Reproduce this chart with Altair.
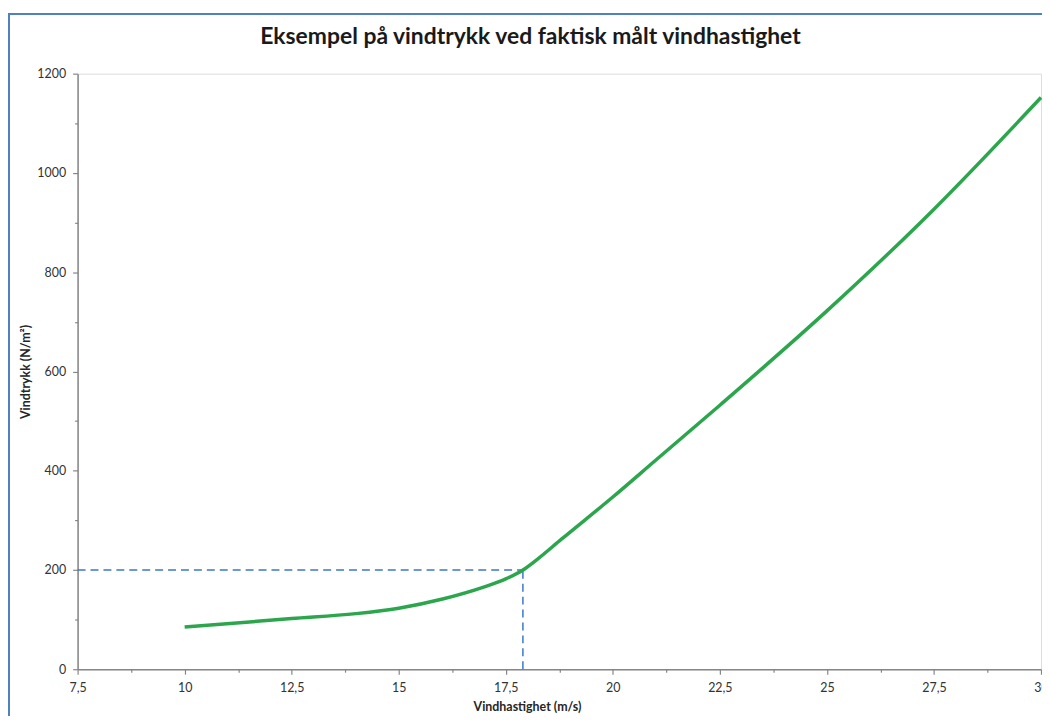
import altair as alt
import pandas as pd

# Data
wind_speed = [10, 12.5, 14, 15, 16, 17, 17.5, 17.9, 18.2, 18.8, 20, 21, 22.5, 25, 27.5, 30]
wind_pressure = [85, 102, 112, 123, 141, 166, 182, 200, 219, 262, 347, 421, 532, 722, 927, 1152]

# Reference (dashed) lines at 200 N/m2 and 17.9 m/s
ref_x_start = [7.5, 17.9]
ref_x_end = [17.9, 17.9]
ref_y_start = [200, 0]
ref_y_end = [200, 200]

x_ticks = [7.5, 8.75, 10, 11.25, 12.5, 13.75, 15, 16.25, 17.5, 18.75, 20,
           21.25, 22.5, 23.75, 25, 26.25, 27.5, 28.75, 30]
y_ticks = [0, 50, 100, 150, 200, 250, 300, 350, 400, 450, 500, 550, 600,
           650, 700, 750, 800, 850, 900, 950, 1000, 1050, 1100, 1150, 1200]

TITLE = "Eksempel på vindtrykk ved faktisk målt vindhastighet"
X_TITLE = "Vindhastighet (m/s)"
Y_TITLE = "Vindtrykk (N/m²)"

FONT = "Lato"
W, H = 969, 599
PAD = {"left": 70, "top": 64, "right": 1, "bottom": 47}

df = pd.DataFrame({"v": wind_speed, "p": wind_pressure})
ref = pd.DataFrame({"x": ref_x_start, "x2": ref_x_end, "y": ref_y_start, "y2": ref_y_end})

x_scale = alt.Scale(domain=[7.5, 30], nice=False, zero=False)
y_scale = alt.Scale(domain=[0, 1200], nice=False)

x_axis = alt.Axis(
    values=x_ticks,
    labelExpr="datum.value % 2.5 === 0 ? replace(format(datum.value, '~g'), '.', ',') : ''",
    tickSize={"condition": {"test": "datum.value % 2.5 === 0", "value": 5}, "value": 3},
    labelPadding=7,
    labelFlush=False,
    labelOverlap=False,
    grid=False,
    domainColor="#868686",
    tickColor="#868686",
    domainWidth=1.5,
    tickWidth=1.2,
    labelColor="#333333",
    labelFontSize=12.5,
    labelFont=FONT,
    title=X_TITLE,
    titleFont=FONT,
    titleFontSize=12.5,
    titleFontWeight="bold",
    titleColor="#262626",
    titleX=452,
    titleY=42,
    titleBaseline="alphabetic",
    titleAnchor="middle",
)

y_axis = alt.Axis(
    values=y_ticks,
    labelExpr="datum.value % 200 === 0 ? datum.label : ''",
    format="d",
    tickSize={"condition": {"test": "datum.value % 200 === 0", "value": 5}, "value": 3},
    labelPadding=7,
    labelFlush=False,
    labelOverlap=False,
    grid=False,
    domainColor="#868686",
    tickColor="#868686",
    domainWidth=1.5,
    tickWidth=1.2,
    labelColor="#333333",
    labelFontSize=12.5,
    labelFont=FONT,
    title=Y_TITLE,
    titleFont=FONT,
    titleFontSize=12.5,
    titleFontWeight="bold",
    titleColor="#262626",
    titleX=-52,
    titleY=H / 2,
    titleAngle=-90,
    titleBaseline="middle",
    titleAlign="center",
)

line = alt.Chart(df).mark_line(
    color="#2ca64c", strokeWidth=3.5, interpolate="monotone"
).encode(
    x=alt.X("v:Q", scale=x_scale, axis=x_axis),
    y=alt.Y("p:Q", scale=y_scale, axis=y_axis),
)

dashes = alt.Chart(ref).mark_rule(
    color="#3a78c9", strokeWidth=1.5, strokeDash=[8, 5]
).encode(
    x=alt.X("x:Q", scale=x_scale),
    x2="x2:Q",
    y=alt.Y("y:Q", scale=y_scale),
    y2="y2:Q",
)

one = pd.DataFrame({"a": [0]})
frame_left = alt.Chart(one).mark_rule(color="#4f81bd", strokeWidth=2).encode(
    x=alt.value(-69), y=alt.value(-60), y2=alt.value(H + PAD["bottom"])
)
frame_top = alt.Chart(one).mark_rule(color="#4f81bd", strokeWidth=2).encode(
    x=alt.value(-70), x2=alt.value(W + PAD["right"]), y=alt.value(-60)
)

chart = alt.layer(dashes, line, frame_left, frame_top).properties(
    width=W,
    height=H,
    autosize=alt.AutoSizeParams(type="none"),
    padding=PAD,
    title=alt.TitleParams(
        TITLE,
        font=FONT,
        fontSize=23,
        fontWeight="bold",
        color="#1a1a1a",
        anchor="middle",
        frame="group",
        dx=-29,
        dy=54,
        offset=0,
        baseline="alphabetic",
    ),
).configure_view(stroke=None).configure(background="white")

chart.save("out.html", embed_options={"renderer": "svg", "actions": False})
